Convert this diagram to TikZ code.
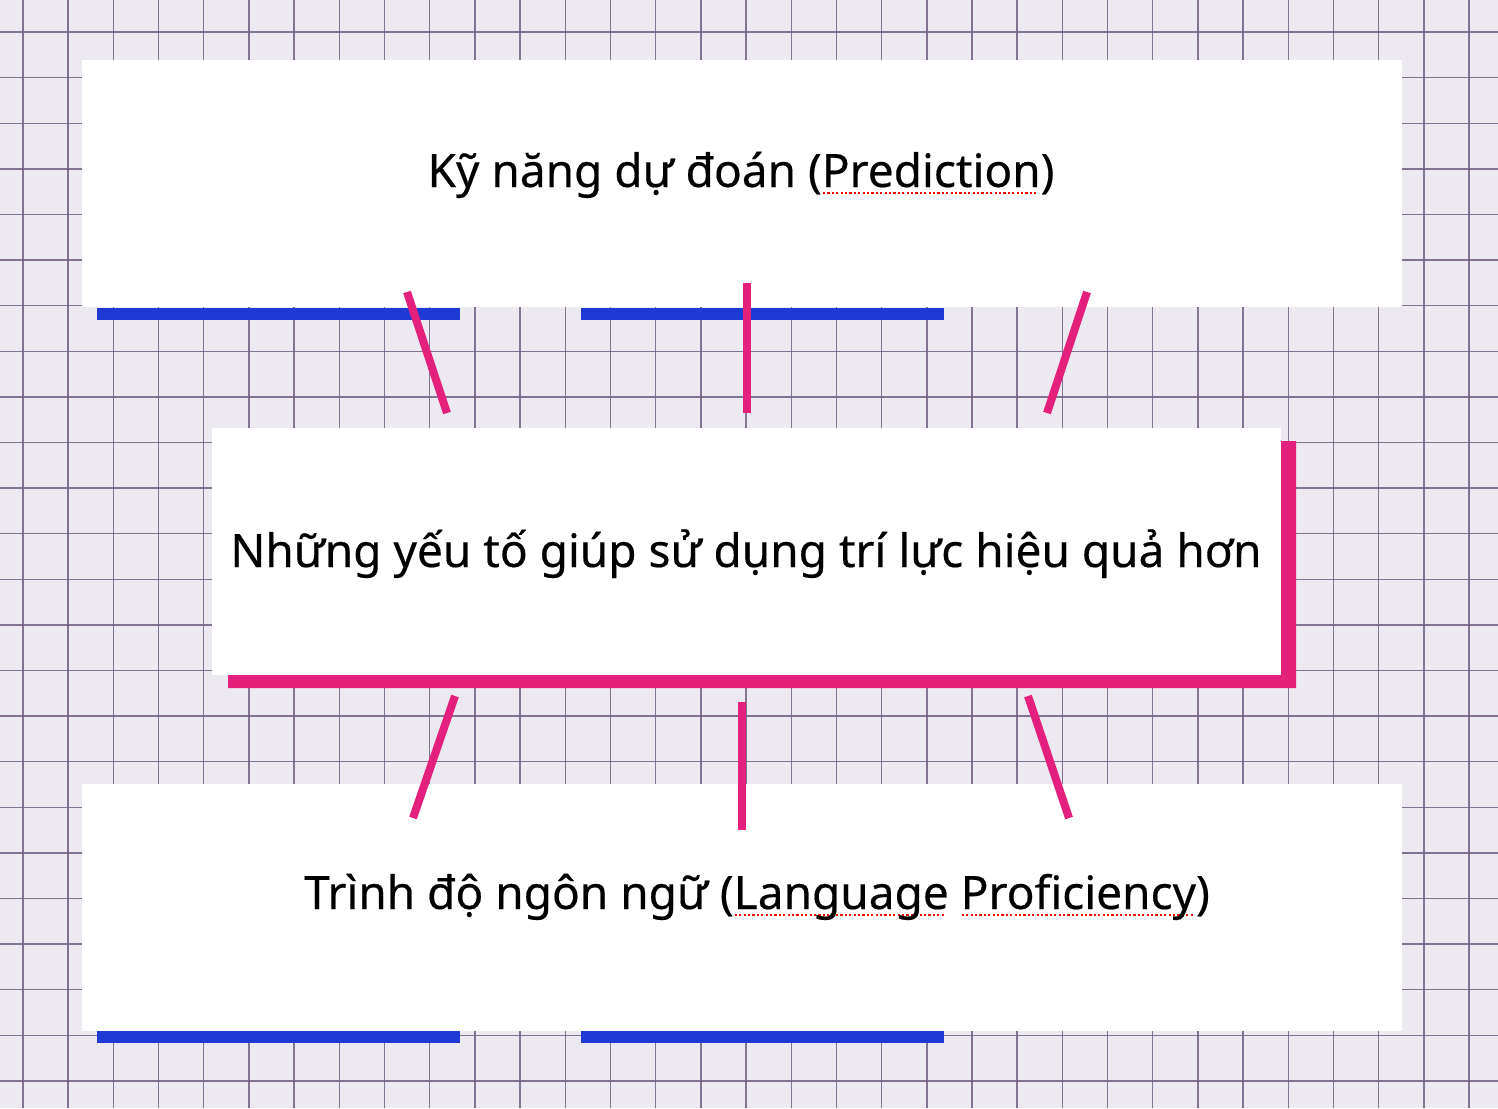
\documentclass[tikz,border=0pt]{standalone}
\usepackage{fontspec}
\setmainfont{Noto Sans}[FakeBold=0.35]
\usetikzlibrary{calc}
\definecolor{paper}{RGB}{236,234,240}
\definecolor{gridc}{RGB}{112,96,128}
\definecolor{barblue}{RGB}{31,58,212}
\definecolor{pinkc}{RGB}{227,33,125}
\newsavebox\spellbox
\newcommand\spellul[1]{\sbox\spellbox{#1}\rlap{\hbox to \wd\spellbox{\color{red}\leaders\hbox to 4.4pt{\hss\rule[-7pt]{2.2pt}{2.2pt}\hss}\hfill}}\usebox\spellbox}
\begin{document}
\begin{tikzpicture}[x=1pt,y=-1pt,
  gridline/.style={draw=gridc,line width=1.4pt,opacity=0.85},
  whitebox/.style={fill=white,draw=none,minimum width=#1,minimum height=247pt,inner sep=0pt,outer sep=0pt},
  bluebar/.style={fill=barblue},
  pinkbar/.style={fill=pinkc},
  link/.style={draw=pinkc,line width=8pt,line cap=butt},
  txt/.style={font=\fontsize{46}{54}\selectfont,text=black,inner sep=0pt}]
\useasboundingbox (0,0) rectangle (1498,1108);
\fill[paper] (0,0) rectangle (1498,1108);
\foreach \i in {0,...,32} \draw[gridline] ({23+45.19*\i},0) -- ({23+45.19*\i},1108);
\foreach \j in {0,...,23} \draw[gridline] (0,{32+45.6*\j}) -- (1498,{32+45.6*\j});
% boxes
\node[whitebox=1320pt] (top) at (742,183.5) {};
\node[whitebox=1069pt] (mid) at (746.5,551.5) {};
\node[whitebox=1320pt] (bot) at (742,907.5) {};
% blue bars
\fill[bluebar] (97,308) rectangle (460,320);
\fill[bluebar] (581,308) rectangle (944,320);
\fill[bluebar] (97,1031) rectangle (460,1043);
\fill[bluebar] (581,1031) rectangle (944,1043);
% pink L frame
\fill[pinkbar] (1281,441) -- (1296,441) -- (1296,688) -- (228,688) -- (228,675) -- (1281,675) -- cycle;
% connectors
\coordinate (t1) at (407,292); \coordinate (m1) at (447,413);
\coordinate (t2) at (747,283); \coordinate (m2) at (747,413);
\coordinate (t3) at (1087,292); \coordinate (m3) at (1047,413);
\coordinate (m4) at (455,696); \coordinate (b4) at (413,818);
\coordinate (m5) at (742,702); \coordinate (b5) at (742,830);
\coordinate (m6) at (1028,696); \coordinate (b6) at (1069,818);
\draw[link] (t1) -- (m1);
\draw[link] (t2) -- (m2);
\draw[link] (t3) -- (m3);
\draw[link] (m4) -- (b4);
\draw[link] (m5) -- (b5);
\draw[link] (m6) -- (b6);
% texts
\node[txt,anchor=base] (ttop) at (741,187) {Kỹ năng dự đoán (\spellul{Prediction})};
\node[txt,anchor=base] (tmid) at (746,567) {Những yếu tố giúp sử dụng trí lực hiệu quả hơn};
\node[txt,anchor=base] (tbot) at (757,909) {Trình độ ngôn ngữ (\spellul{Language} \spellul{Proficiency})};
\end{tikzpicture}
\end{document}
